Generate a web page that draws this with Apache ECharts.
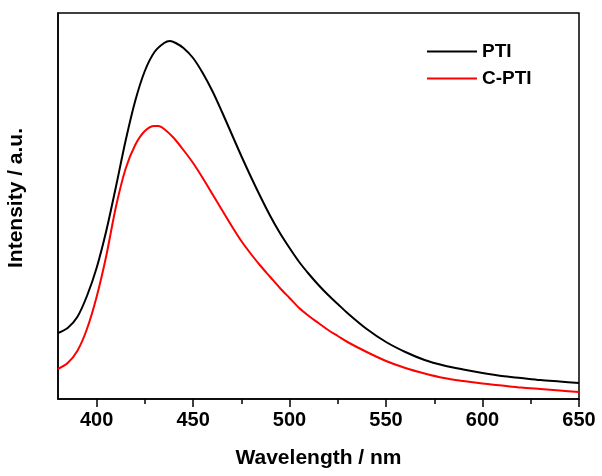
<!DOCTYPE html>
<html>
<head>
<meta charset="utf-8">
<script src="https://cdn.jsdelivr.net/npm/echarts@6/dist/echarts.min.js"></script>
<style>
  html, body { margin: 0; padding: 0; background: #fff; }
  #chart { width: 602px; height: 476px; }
</style>
</head>
<body>
<div id="chart"></div>
<script>
// emission spectra, intensity in arbitrary units
const ptiWavelength = [380, 385, 390, 395, 400, 405, 410, 415, 420, 425, 430, 435, 438, 441, 445, 450, 455, 460, 465, 470, 475, 480, 485, 490, 495, 500, 505, 510, 515, 520, 525, 530, 540, 550, 560, 570, 580, 590, 600, 610, 620, 630, 640, 650];
const ptiIntensity  = [66, 71, 82, 103, 131, 168, 212, 258, 298, 328, 347, 356, 358, 356, 351, 341, 326, 308, 287, 265, 243, 222, 202, 183, 166, 151, 137, 125, 114, 104, 95, 86, 70, 57, 47, 39, 33.5, 29.5, 26, 23, 21, 19, 17.5, 16];

const cptiWavelength = [380, 385, 390, 395, 400, 405, 410, 415, 420, 425, 430, 432, 435, 440, 445, 450, 455, 460, 465, 470, 475, 480, 485, 490, 495, 500, 505, 510, 515, 520, 525, 530, 540, 550, 560, 570, 580, 590, 600, 610, 620, 630, 640, 650];
const cptiIntensity  = [30, 36, 48, 70, 102, 143, 192, 230, 254, 268, 273, 273, 270, 261, 249, 236, 221, 205, 189, 173, 158, 145, 133, 122, 111, 101, 91, 83, 76, 69, 63, 57, 47, 38, 31, 25.5, 21, 18, 15.5, 13.5, 11.5, 10, 8.5, 7];

const majorTicks = [400, 450, 500, 550, 600, 650];
const minorTicks = [425, 475, 525, 575, 625];

const zip = (xs, ys) => xs.map((x, i) => [x, ys[i]]);

const chart = echarts.init(document.getElementById('chart'));
const font = 'Arial, "Liberation Sans", sans-serif';

chart.setOption({
    animation: false,
    backgroundColor: '#fff',
    grid: {
        left: 58, right: 23, top: 13, bottom: 77,
        outerBoundsMode: 'none',
        show: true, borderColor: '#000', borderWidth: 1.5
    },
    legend: {
        orient: 'vertical',
        left: 427, top: 42,
        padding: 0,
        itemWidth: 50, itemHeight: 2, itemGap: 8,
        icon: 'rect',
        textStyle: { fontFamily: font, fontWeight: 'bold', fontSize: 19, color: '#000' },
        data: ['PTI', 'C-PTI']
    },
    xAxis: [{
        type: 'value',
        min: 380, max: 650,
        position: 'bottom',
        name: 'Wavelength / nm',
        nameLocation: 'middle',
        nameGap: 49,
        nameTextStyle: { fontFamily: font, fontWeight: 'bold', fontSize: 21, color: '#000' },
        axisLine: { show: true, lineStyle: { color: '#000', width: 1.5 } },
        axisTick: { show: true, inside: false, length: 8, customValues: majorTicks, lineStyle: { color: '#000', width: 1.5 } },
        axisLabel: { customValues: majorTicks, margin: 11, fontFamily: font, fontWeight: 'bold', fontSize: 20, color: '#000' },
        splitLine: { show: false }
    }, {
        type: 'value',
        min: 380, max: 650,
        position: 'bottom',
        axisLine: { show: false },
        axisTick: { show: true, inside: false, length: 5, customValues: minorTicks, lineStyle: { color: '#000', width: 1.5 } },
        axisLabel: { show: false },
        splitLine: { show: false }
    }],
    yAxis: {
        type: 'value',
        min: 0, max: 386,
        name: 'Intensity / a.u.',
        nameLocation: 'middle',
        nameGap: 31,
        nameTextStyle: { fontFamily: font, fontWeight: 'bold', fontSize: 21, color: '#000', padding: [0, 0, 0, 16] },
        axisLine: { show: true, lineStyle: { color: '#000', width: 1.5 } },
        axisTick: { show: false },
        axisLabel: { show: false },
        splitLine: { show: false }
    },
    series: [{
        name: 'PTI',
        type: 'line',
        smooth: 0.3,
        showSymbol: false,
        color: '#000000',
        lineStyle: { width: 2, color: '#000000' },
        data: zip(ptiWavelength, ptiIntensity)
    }, {
        name: 'C-PTI',
        type: 'line',
        smooth: 0.3,
        showSymbol: false,
        color: '#ff0000',
        lineStyle: { width: 2, color: '#ff0000' },
        data: zip(cptiWavelength, cptiIntensity)
    }]
});
</script>
</body>
</html>
